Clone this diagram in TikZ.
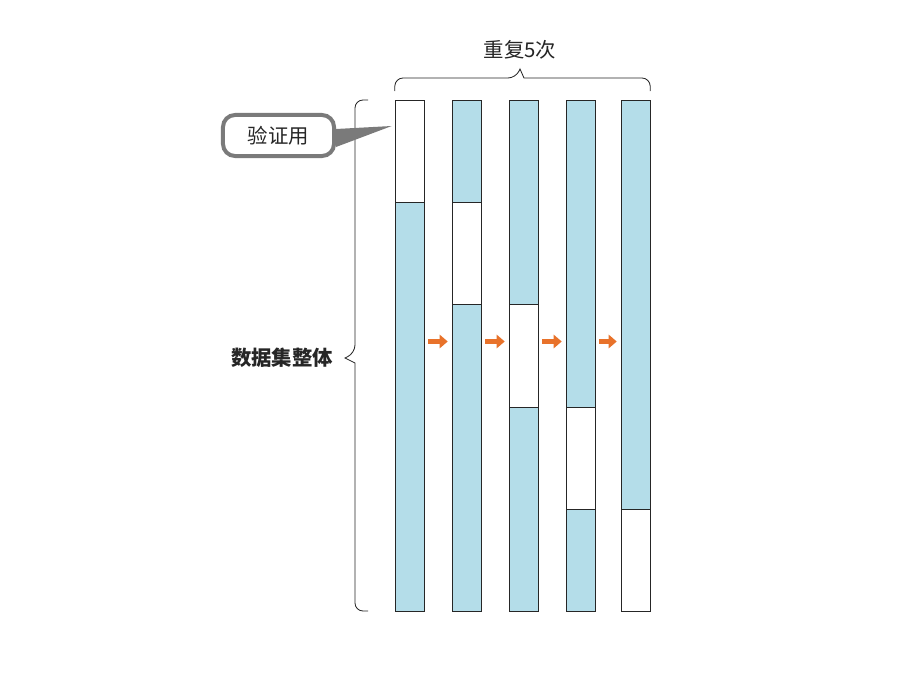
\documentclass[tikz,border=0pt]{standalone}
\usepackage{fontspec}
\setmainfont{Noto Sans CJK SC}
\usetikzlibrary{arrows.meta, positioning, backgrounds}
\definecolor{barblue}{RGB}{180,221,233}
\definecolor{floworange}{RGB}{232,114,42}
\definecolor{tagged}{RGB}{122,122,122}
\tikzstyle{bar} = [rectangle, minimum width=0.725cm, minimum height=12.775cm, inner sep=0pt, draw=black!85, fill=barblue]
\tikzstyle{valid} = [rectangle, minimum width=0.725cm, minimum height=2.555cm, inner sep=0pt, draw=black!85, fill=white]
\tikzstyle{tag} = [rectangle, rounded corners=0.3cm, minimum width=2.775cm, minimum height=1.025cm, line width=0.1cm, draw=tagged, fill=white]
\tikzstyle{flow} = [-{Triangle[length=0.2cm, width=0.33cm]}, line width=0.12cm, draw=floworange, fill=floworange, shorten <=0.1cm, shorten >=0.1cm]
\tikzstyle{brace} = [draw=black!85, line width=0.6pt]
\tikzstyle{label} = [font=\fontsize{14.5pt}{17pt}\selectfont, text=black!85]

\begin{document}
\begin{tikzpicture}[x=0.025cm, y=-0.025cm, background rectangle/.style={fill=white}, show background rectangle]

    \useasboundingbox (0, 0) rectangle (912, 690);

    % bars, one held-out part each
    \foreach \i/\x in {1/409.5, 2/466.5, 3/523.5, 4/580.5, 5/635.5} {
        \node (bar\i) [bar] at (\x, 355.5) {};
        \node (valid\i) [valid, anchor=north] at (\x, {100 + (\i - 1) * 102.2}) {};
    }

    \foreach \i/\j in {1/2, 2/3, 3/4, 4/5}
        \draw [flow] (bar\i.east |- 0, 341.5) -- (bar\j.west |- 0, 341.5);

    % braces
    \node (repeat) [label] at (520, 50) {重复5次};
    \node (whole) [label, anchor=east, font=\fontsize{14.5pt}{17pt}\selectfont\bfseries] at (338, 358) {数据集整体};

    \draw [brace] (bar1.north west |- 0, 91) [rounded corners=0.2cm] -- (395, 78) -- (516, 78) [sharp corners] -- (520, 69) -- (524, 78) [rounded corners=0.2cm] -- (650, 78) -- (bar5.north east |- 0, 91);
    \draw [brace] (368, 100) [rounded corners=0.2cm] -- (355, 100) -- (355, 353) [sharp corners] -- (345, 358) -- (355, 363) [rounded corners=0.2cm] -- (355, 611) -- (368, 611);

    % callout
    \fill [tagged] (336, 129) -- ([xshift=-0.075cm]valid1.west |- 0, 126) -- (336, 147) -- cycle;
    \node (check) [tag, label] at (278.5, 135.5) {验证用};

\end{tikzpicture}
\end{document}
